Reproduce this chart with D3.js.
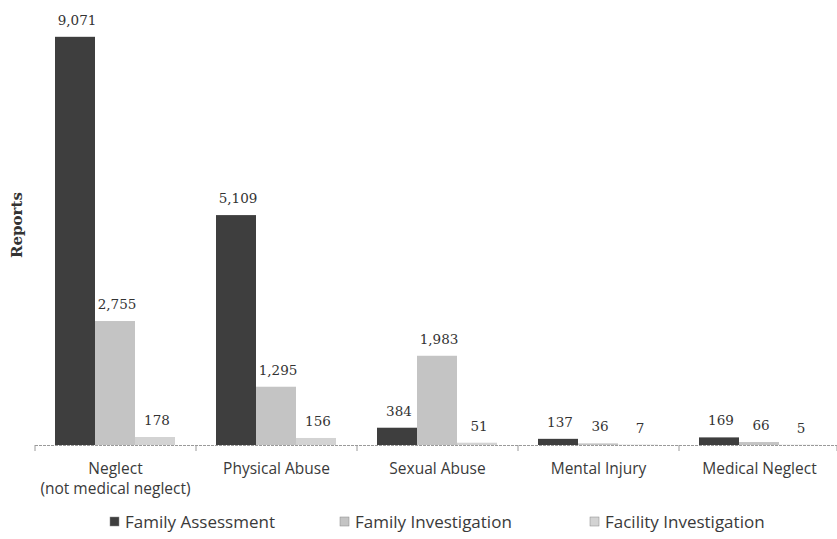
<!DOCTYPE html>
<html>
<head>
<meta charset="utf-8">
<script src="https://cdn.jsdelivr.net/npm/d3@7"></script>
<style>
body { margin: 0; background: #fff; }
.valueText { font-family: "DejaVu Serif", serif; font-size: 13.5px; fill: #333; text-anchor: middle; }
.catText { font-family: "Open Sans", sans-serif; font-size: 15.5px; fill: #3a3a3a; text-anchor: middle; }
.legendText { font-family: "Open Sans", sans-serif; font-size: 17px; fill: #3a3a3a; }
</style>
</head>
<body>
<div id="chart"></div>
<script>
// data
var categories = ["Neglect|(not medical neglect)", "Physical Abuse", "Sexual Abuse", "Mental Injury", "Medical Neglect"];
var seriesNames = ["Family Assessment", "Family Investigation", "Facility Investigation"];
var familyAssessment = [9071, 5109, 384, 137, 169];
var familyInvestigation = [2755, 1295, 1983, 36, 66];
var facilityInvestigation = [178, 156, 51, 7, 5];

var svgWidth = 837;
var svgHeight = 539;

var colors = ["#3e3e3e", "#c4c4c4", "#d3d3d3"];

var svg = d3.select("#chart")
    .append("svg")
    .attr("width", svgWidth)
    .attr("height", svgHeight);

var baseY = 445;

var rows = categories.map(function(c, i) {
    return {
        cat: c,
        values: [familyAssessment[i], familyInvestigation[i], facilityInvestigation[i]]
    };
});

var x0 = d3.scaleBand()
    .domain(categories)
    .range([35, 840]);

var x1 = d3.scaleBand()
    .domain(seriesNames)
    .range([20, x0.bandwidth() - 21]);

var y = d3.scaleLinear()
    .domain([0, 10000])
    .range([baseY, baseY - 450]);

// axis line with ticks at category edges
var axisG = svg.append("g").attr("transform", `translate(0, ${baseY})`);
axisG.append("line")
    .attr("x1", 35).attr("x2", 837)
    .attr("y1", 0.5).attr("y2", 0.5)
    .attr("stroke", "#9a9a9a")
    .attr("stroke-width", 1.2)
    .attr("stroke-dasharray", "3,1");

var edges = categories.map(function(c) { return x0(c); }).concat([x0.range()[1] - 3]);
axisG.selectAll("line.tick")
    .data(edges)
    .enter()
    .append("line")
    .attr("class", "tick")
    .attr("x1", d => d).attr("x2", d => d)
    .attr("y1", 0).attr("y2", 6)
    .attr("stroke", "#9a9a9a");

// bars
var groups = svg.selectAll("g.group")
    .data(rows)
    .enter()
    .append("g")
    .attr("class", "group")
    .attr("transform", d => `translate(${x0(d.cat)}, 0)`);

groups.selectAll("rect")
    .data(d => d.values.map(function(v, j) { return { name: seriesNames[j], value: v, idx: j }; }))
    .enter()
    .append("rect")
    .attr("x", d => x1(d.name))
    .attr("width", x1.bandwidth())
    .attr("y", d => y(d.value))
    .attr("height", d => baseY - y(d.value))
    .attr("fill", d => colors[d.idx]);

groups.selectAll("text")
    .data(d => d.values.map(function(v, j) { return { name: seriesNames[j], value: v }; }))
    .enter()
    .append("text")
    .classed("valueText", true)
    .attr("x", d => x1(d.name) + x1.bandwidth() / 2 + 2)
    .attr("y", d => y(d.value) - 12)
    .text(d => d3.format(",")(d.value));

// category labels, one text per line
var catLines = [];
categories.forEach(function(c) {
    c.split("|").forEach(function(p, k) {
        catLines.push({ cat: c, text: p, line: k });
    });
});

svg.selectAll("text.catText")
    .data(catLines)
    .enter()
    .append("text")
    .classed("catText", true)
    .attr("x", d => x0(d.cat) + x0.bandwidth() / 2)
    .attr("y", d => 474 + d.line * 20)
    .text(d => d.text);

// y axis title
svg.append("text")
    .attr("transform", "rotate(-90)")
    .attr("x", -225)
    .attr("y", 22)
    .attr("text-anchor", "middle")
    .style("font-family", "DejaVu Serif, serif")
    .style("font-weight", "bold")
    .style("font-size", "15px")
    .style("fill", "#333")
    .text("Reports");

// legend
var legendX = [110, 340, 590];
var legend = svg.selectAll("g.legend")
    .data(seriesNames)
    .enter()
    .append("g")
    .attr("class", "legend")
    .attr("transform", (d, i) => `translate(${legendX[i]}, 0)`);

legend.append("rect")
    .attr("x", 0)
    .attr("y", 517)
    .attr("width", 9)
    .attr("height", 9)
    .attr("fill", (d, i) => colors[i])
    .attr("stroke", "#888")
    .attr("stroke-width", 0.5);

legend.append("text")
    .classed("legendText", true)
    .attr("x", 15)
    .attr("y", 528)
    .text(d => d);
</script>
</body>
</html>
